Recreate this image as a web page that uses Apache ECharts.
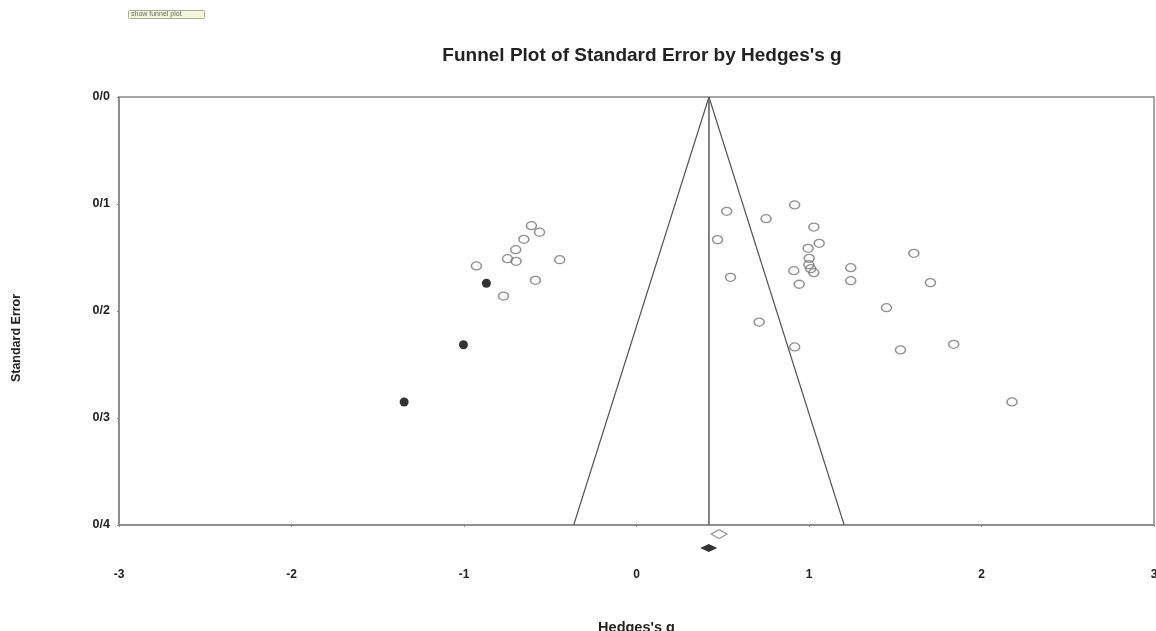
<!DOCTYPE html>
<html>
<head>
<meta charset="utf-8">
<script src="https://cdn.jsdelivr.net/npm/echarts@6/dist/echarts.min.js"></script>
<style>
html,body{margin:0;padding:0;background:#fff;overflow:hidden;}
#chart{width:1156px;height:631px;}
</style>
</head>
<body>
<div id="chart"></div>
<script>
// Observed studies (open circles): [Hedges's g, standard error]
var observedStudies = [
  [-0.609,0.1203],[-0.562,0.1264],[-0.653,0.1330],[-0.700,0.1427],[-0.748,0.1511],
  [-0.698,0.1536],[-0.928,0.1579],[-0.445,0.1521],[-0.586,0.1713],[-0.771,0.1860],
  [0.523,0.1068],[0.917,0.1009],[0.751,0.1137],[1.028,0.1215],[0.470,0.1333],
  [1.059,0.1367],[0.995,0.1414],[1.001,0.1508],[0.999,0.1567],[1.010,0.1605],
  [1.028,0.1642],[0.912,0.1623],[1.242,0.1595],[1.242,0.1717],[0.545,0.1685],
  [0.943,0.1750],[0.711,0.2103],[0.917,0.2336],[1.608,0.1461],[1.704,0.1735],
  [1.449,0.1969],[1.839,0.2311],[1.530,0.2364],[2.177,0.2850]
];
// Imputed studies (filled circles)
var imputedStudies = [[-0.870,0.1741],[-1.003,0.2315],[-1.347,0.2850]];
// Summary estimates (diamonds drawn below the axis)
var observedSummary = [[0.479,0.4085]];
var adjustedSummary = [[0.419,0.4215]];
// Funnel (pseudo 95% limits) and centre line
var funnelLines = [[-0.364,0.4],[0.42,0],[1.204,0.4]];
var centreLine = [[0.42,0],[0.42,0.4]];
// Tick labels
var xTickLabels = ['-3','-2','-1','0','1','2','3'];
var yTickLabels = ['0/0','0/1','0/2','0/3','0/4'];

var chart = echarts.init(document.getElementById('chart'), null, {renderer:'canvas',width:1156,height:631});
var FONT = 'Liberation Sans, Arial, sans-serif';
var option = {
  animation:false,
  backgroundColor:'#fff',
  title:{
    text:"Funnel Plot of Standard Error by Hedges's g",
    left:637, top:41, textAlign:'center',
    textStyle:{fontFamily:FONT,fontSize:19,fontWeight:'bold',color:'#222'}
  },
  graphic:[
    {type:'rect',left:128,top:10,shape:{width:76,height:8,r:1},
     style:{fill:'#f3f6dc',stroke:'#a9ad90',lineWidth:1}},
    {type:'text',left:131,top:10.5,
     style:{text:'show funnel plot',font:'7px '+FONT,fill:'#666'}},
    {type:'text',x:17,y:338,rotation:Math.PI/2,
     style:{text:'Standard Error',font:'bold 12.5px '+FONT,fill:'#222',
            textAlign:'center',textVerticalAlign:'middle'}}
  ],
  grid:{left:119,top:97,width:1035,height:428,outerBoundsMode:'none',containLabel:false,
        show:true,borderColor:'#888',borderWidth:1.5,backgroundColor:'transparent'},
  xAxis:{
    type:'value',min:-3,max:3,interval:1,
    name:"Hedges's g",nameLocation:'middle',nameGap:95,
    nameTextStyle:{fontFamily:FONT,fontSize:14.5,fontWeight:'bold',color:'#222'},
    axisLine:{show:true,onZero:false,lineStyle:{color:'#888',width:1.5}},
    axisTick:{show:true,length:2,inside:false,lineStyle:{color:'#888'}},
    splitLine:{show:false},
    axisLabel:{margin:44,fontFamily:FONT,fontSize:12,fontWeight:'bold',color:'#222',
      formatter:function(v){var i=Math.round(v+3);return xTickLabels[i]!==undefined?xTickLabels[i]:'';}}
  },
  yAxis:{
    type:'value',min:0,max:0.4,interval:0.1,inverse:true,
    axisLine:{show:true,onZero:false,lineStyle:{color:'#888',width:1.5}},
    axisTick:{show:true,length:2,lineStyle:{color:'#888'}},
    splitLine:{show:false},
    axisLabel:{margin:9,fontFamily:FONT,fontSize:12.5,fontWeight:'bold',color:'#222',
      formatter:function(v){var i=Math.round(v*10);return yTickLabels[i]!==undefined?yTickLabels[i]:'';}}
  },
  series:[
    {type:'line',data:funnelLines,symbol:'none',z:2,
     lineStyle:{color:'#555',width:1.2}},
    {type:'line',data:centreLine,symbol:'none',z:2,
     lineStyle:{color:'#666',width:1.6}},
    {type:'scatter',data:observedStudies,symbol:'circle',symbolSize:[10,8],z:3,
     itemStyle:{color:'rgba(255,255,255,0)',borderColor:'#777',borderWidth:1.4}},
    {type:'scatter',data:imputedStudies,symbol:'circle',symbolSize:9,z:3,
     itemStyle:{color:'#000'}},
    {type:'scatter',data:observedSummary,symbol:'diamond',symbolSize:[16,9],clip:false,z:3,
     itemStyle:{color:'#fff',borderColor:'#777',borderWidth:1.2}},
    {type:'scatter',data:adjustedSummary,symbol:'diamond',symbolSize:[17,8],clip:false,z:3,
     itemStyle:{color:'#000'}}
  ]
};
chart.setOption(option);
</script>
</body>
</html>
